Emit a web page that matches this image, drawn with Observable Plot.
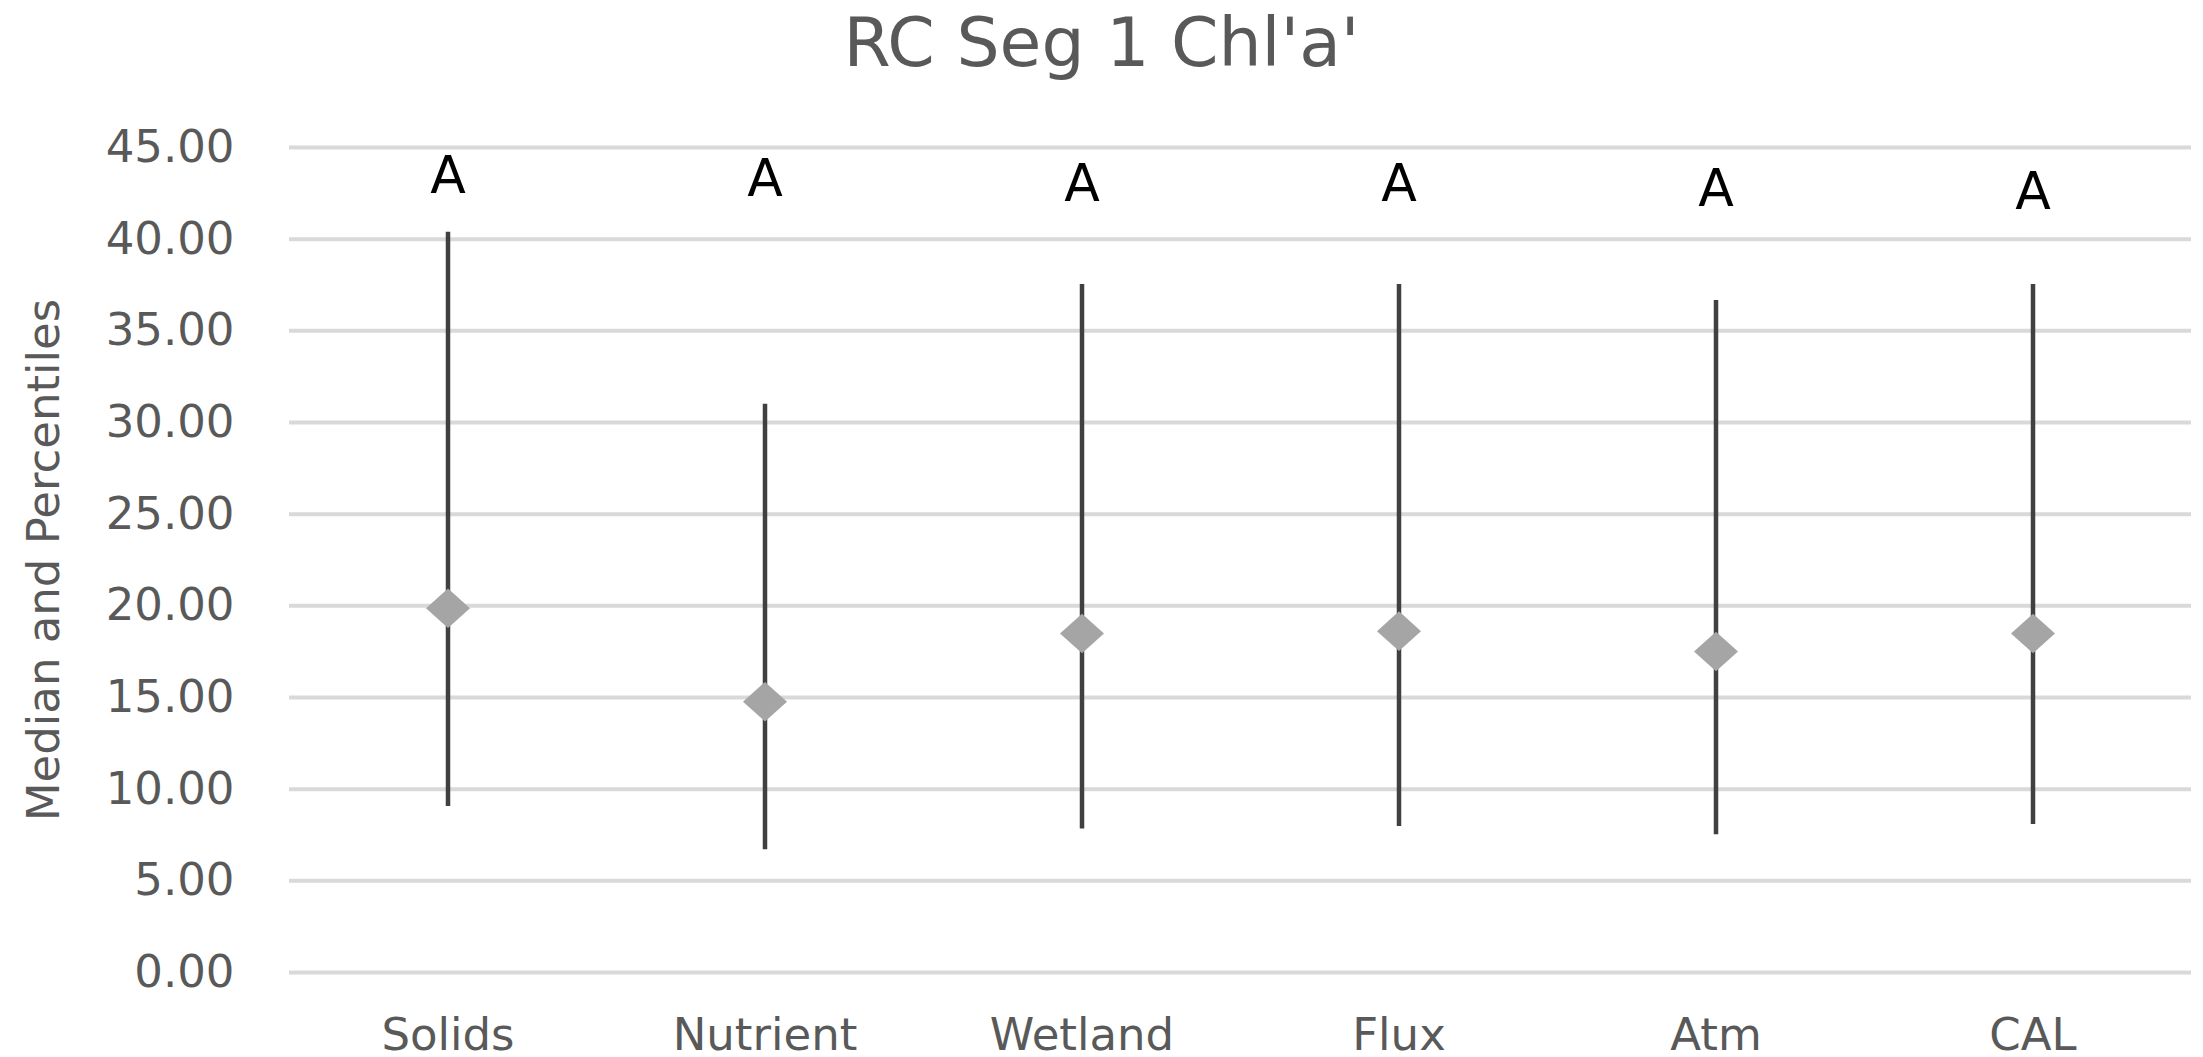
<!DOCTYPE html>
<html>
<head>
<meta charset="utf-8">
<script src="https://cdn.jsdelivr.net/npm/d3@7"></script>
<script src="https://cdn.jsdelivr.net/npm/@observablehq/plot@0.6"></script>
<style>
  html, body { margin: 0; padding: 0; background: #ffffff; }
  #title {
    width: 2203px; height: 100px; line-height: 86px;
    text-align: center; font-family: "DejaVu Sans", sans-serif;
    font-size: 68px; color: #595959; white-space: nowrap;
  }
</style>
</head>
<body>
<div id="title">RC Seg 1 Chl'a'</div>
<div id="chart"></div>
<script>
const categories = ["Solids", "Nutrient", "Wetland", "Flux", "Atm", "CAL"];
const upperPercentile = [40.38, 31.0, 37.53, 37.53, 36.66, 37.53];
const lowerPercentile = [9.05, 6.70, 7.83, 7.96, 7.52, 8.07];
const medians = [19.87, 14.77, 18.49, 18.62, 17.51, 18.49];
const groupLetters = ["A", "A", "A", "A", "A", "A"];
const letterLevel = [43.43, 43.27, 43.0, 43.0, 42.72, 42.56];
const yTicks = [0, 5, 10, 15, 20, 25, 30, 35, 40, 45];

const rows = categories.map((c, i) => ({
  cat: c, hi: upperPercentile[i], lo: lowerPercentile[i], med: medians[i],
  letter: groupLetters[i], lp: letterLevel[i]
}));

// Diamond marker (slightly wider than tall)
const diamond = {
  draw(context, size) {
    const r = Math.sqrt(size / Math.PI);
    const h = r * 0.9;
    context.moveTo(0, -h);
    context.lineTo(r, 0);
    context.lineTo(0, h);
    context.lineTo(-r, 0);
    context.closePath();
  }
};

const chart = Plot.plot({
  width: 2203,
  height: 957,
  marginTop: 47,
  marginBottom: 85,
  marginLeft: 289,
  marginRight: 12,
  style: {fontFamily: "DejaVu Sans", fontSize: "45px", color: "#595959", background: "white", overflow: "visible"},
  x: {type: "band", domain: categories, padding: 0},
  y: {domain: [0, 45]},
  marks: [
    Plot.gridY(yTicks, {stroke: "#d9d9d9", strokeWidth: 4, strokeOpacity: 1}),
    Plot.axisY(yTicks, {
      tickSize: 0, tickPadding: 55, tickFormat: d3.format(".2f"),
      label: "Median and Percentiles", labelAnchor: "center", labelOffset: 262, labelArrow: "none"
    }),
    Plot.axisX({tickSize: 0, tickPadding: 46, fontSize: 45, label: null}),
    Plot.ruleX(rows, {x: "cat", y1: "lo", y2: "hi", stroke: "#404040", strokeWidth: 4.5}),
    Plot.dot(rows, {x: "cat", y: "med", symbol: diamond, r: 22, fill: "#a5a5a5", stroke: "none"}),
    Plot.text(rows, {x: "cat", y: "lp", text: "letter", fill: "black", fontSize: 52, lineAnchor: "middle"})
  ]
});
document.getElementById("chart").appendChild(chart);
</script>
</body>
</html>
